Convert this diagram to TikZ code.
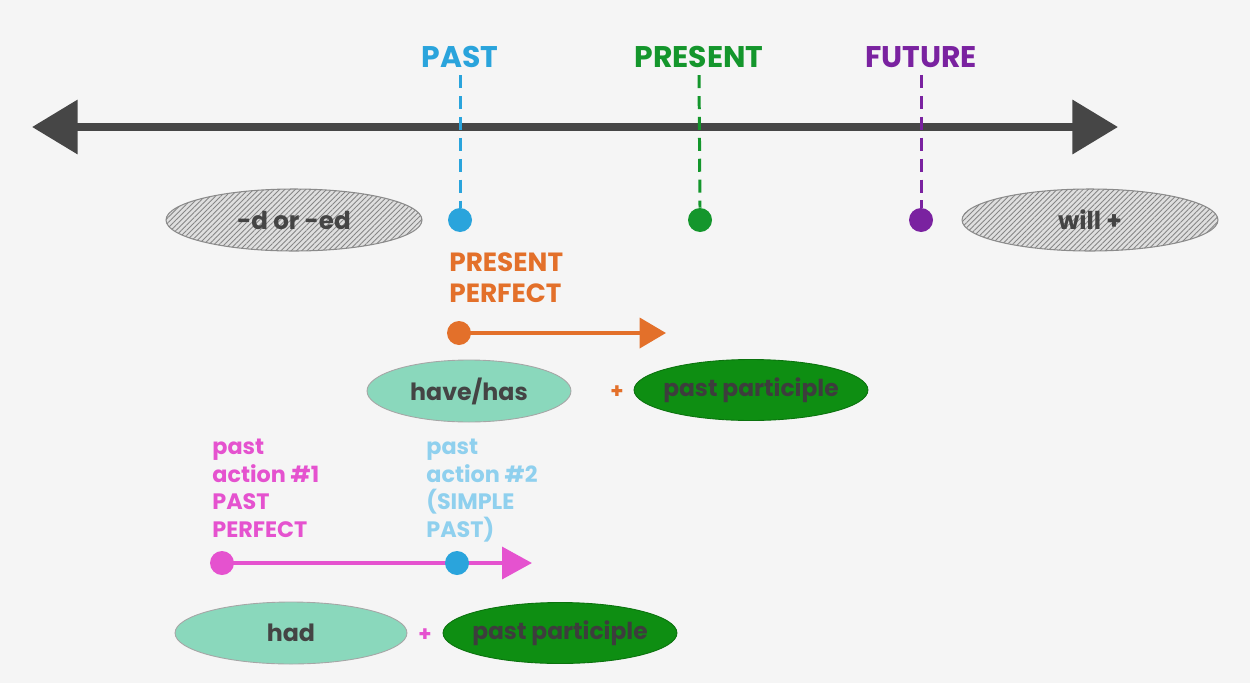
\documentclass[tikz,border=0pt]{standalone}
\usepackage{fontspec}
\setmainfont{Poppins}
\usetikzlibrary{shapes.geometric,arrows.meta,patterns.meta}
\definecolor{bg}{HTML}{F5F5F5}
\definecolor{tline}{HTML}{464646}
\definecolor{cpast}{HTML}{2AA4DC}
\definecolor{cpres}{HTML}{14962C}
\definecolor{cfut}{HTML}{7A22A0}
\definecolor{corange}{HTML}{E3702A}
\definecolor{cpink}{HTML}{E552CF}
\definecolor{clblue}{HTML}{8FD0EE}
\definecolor{cmint}{HTML}{8AD8BC}
\definecolor{cdgreen}{HTML}{0E8E12}
\definecolor{ctext}{HTML}{444444}
\tikzset{
  toplab/.style={font=\fontsize{17}{18}\selectfont\bfseries, inner sep=0pt},
  dot/.style={circle, minimum size=0.48cm, inner sep=0pt, draw=none},
  dashln/.style={line width=1.7pt, dash pattern=on 7.4pt off 4.5pt},
  timeline/.style={line width=4.6pt, draw=tline, {Triangle[length=26pt,width=30pt]}-{Triangle[length=26pt,width=30pt]}},
  hatchell/.style={ellipse, minimum width=5.12cm, minimum height=1.24cm, inner sep=0pt, draw=gray!90, line width=0.6pt,
     fill=gray!25, postaction={pattern={Lines[angle=45,distance=2.1pt,line width=0.5pt]}, pattern color=gray!95},
     font=\fontsize{14}{16}\selectfont\bfseries, text=ctext},
  mintell/.style={ellipse, minimum height=1.24cm, inner sep=0pt, draw=gray!70, line width=0.5pt, fill=cmint,
     font=\fontsize{13.5}{16}\selectfont\bfseries, text=ctext},
  greenell/.style={ellipse, minimum width=4.68cm, minimum height=1.22cm, inner sep=0pt, draw=cdgreen!80!black, line width=0.5pt, fill=cdgreen,
     font=\fontsize{13.3}{16}\selectfont\bfseries, text=ctext!90!black},
  plus/.style={font=\fontsize{12}{14}\selectfont\bfseries, inner sep=0pt},
  smalllab/.style={font=\fontsize{12.7}{15.6}\selectfont\bfseries, align=left, inner sep=0pt, anchor=north west},
}
\begin{document}
\begin{tikzpicture}[x=0.02cm, y=-0.02cm]
\fill[bg] (0,0) rectangle (1250,683);
\useasboundingbox (0,0) rectangle (1250,683);

% main timeline
\coordinate (tl) at (32,127);
\coordinate (tr) at (1118,127);
\draw[timeline] (tl) -- (tr);

% top labels and points
\node[toplab, text=cpast] (lpast) at (460,57) {PAST};
\node[toplab, text=cpres] (lpres) at (699,57) {PRESENT};
\node[toplab, text=cfut] (lfut) at (921,57) {FUTURE};
\node[dot, fill=cpast] (dpast) at (460,220) {};
\node[dot, fill=cpres] (dpres) at (700,220) {};
\node[dot, fill=cfut] (dfut) at (921,220) {};
\draw[dashln, cpast] ([yshift=-4pt]lpast.south) -- (dpast.north);
\draw[dashln, cpres] ([yshift=-4pt]lpres.south) -- (dpres.north);
\draw[dashln, cfut] ([yshift=-4pt]lfut.south) -- (dfut.north);

% hatched ellipses
\node[hatchell] (ed) at (294,220) {\makebox[0pt]{-d or -ed}};
\node[hatchell] (will) at (1090,220) {\makebox[0pt]{will +}};

% present perfect
\node[font=\fontsize{15}{17.6}\selectfont\bfseries, text=corange, align=left, inner sep=0pt, anchor=north west] (lpp) at (449,252) {PRESENT\\PERFECT};
\node[dot, fill=corange] (dpp) at (459,333) {};
\coordinate (epp) at (666,333);
\draw[line width=2.4pt, corange, -{Triangle[length=15pt,width=17pt]}] (dpp.center) -- (epp);
\node[mintell, minimum width=4.08cm] (have) at (469,391) {\makebox[0pt]{have/has}};
\node[plus, text=corange] (plus1) at (617,392) {+};
\node[greenell] (pp1) at (751,390) {\makebox[0pt]{past participle}};

% past perfect
\node[smalllab, text=cpink] (lpa1) at (212,439) {past\\action \#1\\PAST\\PERFECT};
\node[smalllab, text=clblue] (lpa2) at (426,439) {past\\action \#2\\(SIMPLE\\PAST)};
\node[dot, fill=cpink] (dpa1) at (222,563) {};
\coordinate (epa) at (532,563);
\draw[line width=2.4pt, cpink, -{Triangle[length=17pt,width=18pt]}] (dpa1.center) -- (epa);
\node[dot, fill=cpast] (dpa2) at (457,563) {};
\node[mintell, minimum width=4.64cm] (had) at (291,633) {\makebox[0pt]{had}};
\node[plus, text=cpink] (plus2) at (425,635) {+};
\node[greenell] (pp2) at (560,633) {\makebox[0pt]{past participle}};
\end{tikzpicture}
\end{document}
